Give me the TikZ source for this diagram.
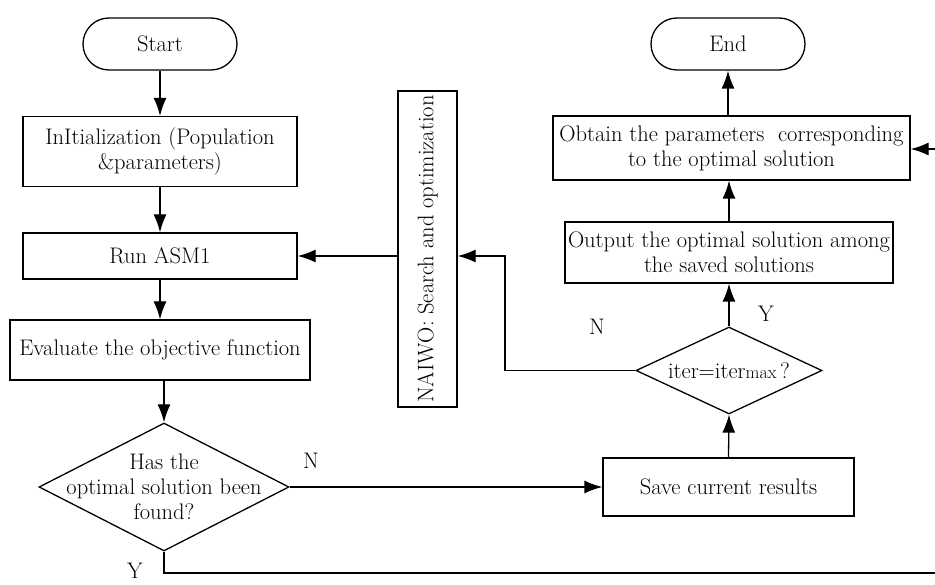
\documentclass[tikz,border=0pt]{standalone}
\usetikzlibrary{shapes.geometric,arrows.meta}
\begin{document}
\begin{tikzpicture}[x=1pt,y=-1pt,line width=1.3pt,font=\fontsize{22.5}{25}\selectfont,
  box/.style={draw,inner sep=0pt,align=center},
  arr/.style={-{Latex[length=18pt,width=13pt]}},
  term/.style={draw,rounded corners=26pt,minimum width=154pt,minimum height=52pt,inner sep=0pt},
  dia/.style={diamond,draw,inner sep=0pt}]
\useasboundingbox (0,0) rectangle (935,585);
\node[term] (start) at (160,44) {Start};
\node[box,minimum width=274pt,minimum height=70pt] (init) at (160,151.5) {InItialization (Population\\\&parameters)};
\node[box,minimum width=274pt,minimum height=46pt] (run) at (160,256) {Run ASM1};
\node[box,minimum width=300pt,minimum height=60pt] (eval) at (160,350) {Evaluate the objective function};
\node[dia,minimum width=250pt,minimum height=128pt] (d1) at (164,487) {};
\node[align=center] (d1t) at (d1.center) {Has the\\optimal solution been\\found?};
\node[box,minimum width=251pt,minimum height=58pt] (save) at (728.5,487) {Save current results};
\node[dia,minimum width=186pt,minimum height=87pt] (d2) at (729,370.5) {};
\node (d2t) at (d2.center) {iter=iter{\fontsize{18}{20}\selectfont max}\,?};
\node[box,minimum width=328pt,minimum height=61pt] (out) at (729,252.5) {Output the optimal solution among\\the saved solutions};
\node[box,minimum width=357pt,minimum height=64pt] (obt) at (731.5,148) {Obtain the parameters\ \ corresponding\\to the optimal solution};
\node[term] (end) at (728,44) {End};
\node[box,minimum width=59pt,minimum height=316pt] (naiwo) at (427.5,249) {};
\node[rotate=90] (naiwot) at (naiwo.center) {NAIWO: Search and optimization};
% labels
\node (lN1) at (311,461) {N};
\node (lY1) at (135,571) {Y};
\node (lN2) at (597,327) {N};
\node (lY2) at (766,314) {Y};
% connectors
\draw[arr] (start) -- (init);
\draw[arr] (init) -- (run);
\draw[arr] (run) -- (eval);
\draw[arr] (d1.north |- eval.south) -- (d1.north);
\draw[arr] (d1.east) -- (save.west);
\draw[arr] (save.north) -- (d2.south);
\draw[arr] (d2.north) -- (d2.north |- out.south);
\draw[arr] (out.north) -- (out.north |- obt.south);
\draw[arr] (end.south |- obt.north) -- (end.south);
\coordinate (c1) at (505,370.5);
\coordinate (c2) at (505,256);
\draw[arr] (d2.west) -- (c1) -- (c2) -- (c2 -| naiwo.east);
\draw[arr] (run.east -| naiwo.west) -- (run.east);
\coordinate (b1) at (164,573);
\coordinate (b2) at (945,573);
\coordinate (b3) at (945,149);
\draw[arr] (d1.south) -- (b1) -- (b2) -- (b3) -- (b3 -| obt.east);
\end{tikzpicture}
\end{document}
